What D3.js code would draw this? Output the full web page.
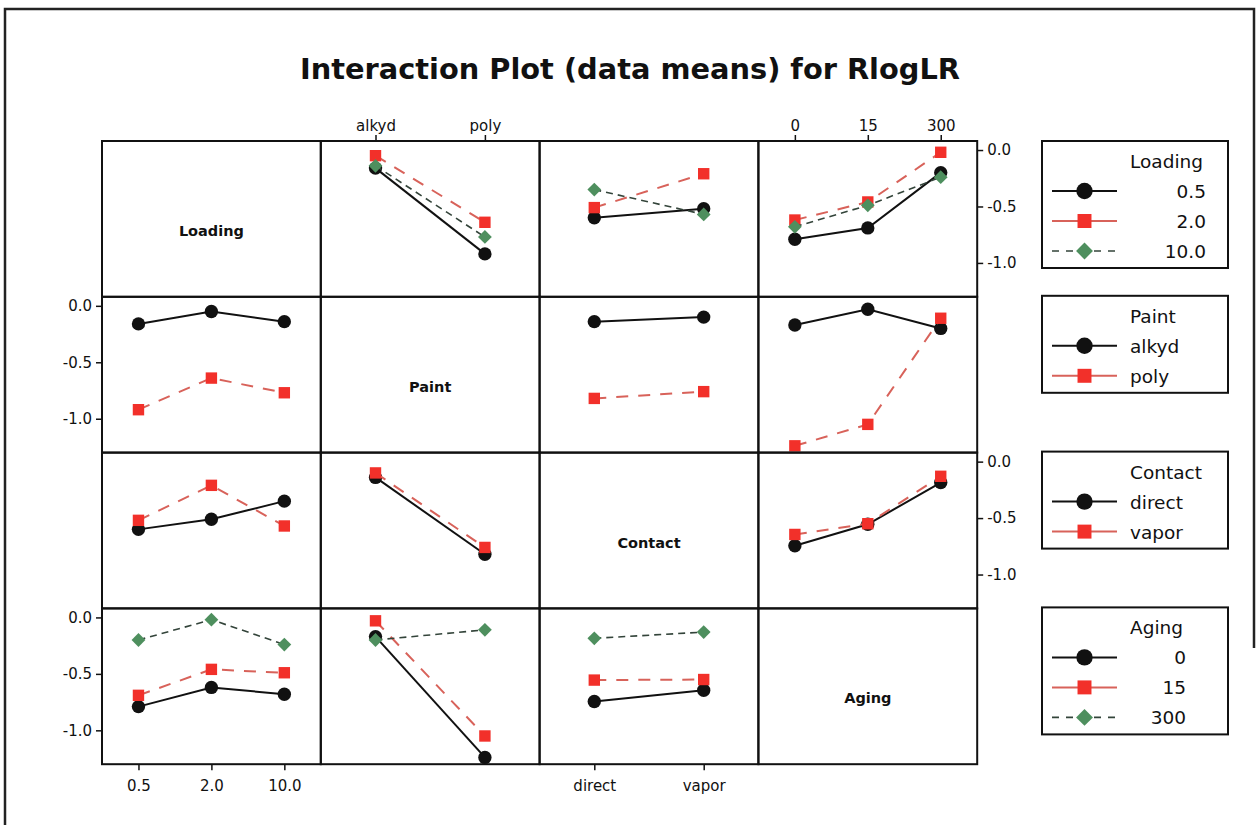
<!DOCTYPE html>
<html><head><meta charset="utf-8">
<script src="https://cdn.jsdelivr.net/npm/d3@7"></script>
<style>body{margin:0;background:#fff} svg{display:block}</style>
</head><body><svg id="c" width="1256" height="825"></svg>
<script>
// ---------------- DATA ----------------
const factors = ["Loading", "Paint", "Contact", "Aging"];
const loadingLevels = ["0.5", "2.0", "10.0"];
const paintLevels = ["alkyd", "poly"];
const contactLevels = ["direct", "vapor"];
const agingLevels = ["0", "15", "300"];
const yTickValues = [0.0, -0.5, -1.0];
// cell means: rows = levels of first factor, columns = levels of second factor
const meansLoadingPaint   = [[-0.16, -0.92], [-0.05, -0.64], [-0.14, -0.77]];
const meansLoadingContact = [[-0.60, -0.52], [-0.51, -0.21], [-0.35, -0.57]];
const meansLoadingAging   = [[-0.79, -0.69, -0.20], [-0.62, -0.46, -0.02], [-0.68, -0.49, -0.24]];
const meansPaintContact   = [[-0.14, -0.10], [-0.82, -0.76]];
const meansPaintAging     = [[-0.17, -0.03, -0.20], [-1.24, -1.05, -0.11]];
const meansContactAging   = [[-0.745, -0.555, -0.185], [-0.645, -0.55, -0.13]];
const titleText = "Interaction Plot (data means) for RlogLR";

// ---------------- SETUP ----------------
const levels = [loadingLevels, paintLevels, contactLevels, agingLevels];
const meansTable = {
  "0-1": meansLoadingPaint, "0-2": meansLoadingContact, "0-3": meansLoadingAging,
  "1-2": meansPaintContact, "1-3": meansPaintAging, "2-3": meansContactAging
};
function cellMean(tf, ti, xf, xi) {
  return tf < xf ? meansTable[tf + "-" + xf][ti][xi] : meansTable[xf + "-" + tf][xi][ti];
}
const numericFactor = [true, false, false, true];

const svg = d3.select("#c");
const FONT = "'DejaVu Sans', Verdana, sans-serif";

const gridLeft = 102, colW = 218.8, gridTop = 141, rowH = 155.8;
const colX = i => gridLeft + i * colW;
const rowY = i => gridTop + i * rowH;

const styles = [
  { line: "#111", dash: null, width: 2, fill: "#111", type: d3.symbolCircle, size: 140, rot: 0 },
  { line: "#d8625a", dash: "12,10", width: 2, fill: "#f2302a", type: d3.symbolSquare, size: 130, rot: 0 },
  { line: "#33443a", dash: "7,5", width: 1.6, fill: "#4e8f5e", type: d3.symbolSquare, size: 95, rot: 45 }
];

// frame
svg.append("path").attr("d", "M5,825 L5,9 L1254,9 L1254,648")
  .attr("fill", "none").attr("stroke", "#222").attr("stroke-width", 2.5);

// title
svg.append("text").attr("x", 630).attr("y", 79).attr("text-anchor", "middle")
  .attr("font-family", FONT).attr("font-weight", "bold").attr("font-size", 29)
  .attr("textLength", 660).attr("lengthAdjust", "spacingAndGlyphs")
  .attr("fill", "#111").text(titleText);

const xScales = levels.map((lv, j) => d3.scalePoint().domain(lv).range([colX(j), colX(j + 1)]).padding(0.5));
const yScales = factors.map((f, i) => d3.scaleLinear().domain([-1.30, 0.08]).range([rowY(i + 1), rowY(i)]));

// panels
for (let i = 0; i < 4; i++) {
  for (let j = 0; j < 4; j++) {
    const g = svg.append("g");
    if (i === j) {
      g.append("text").attr("x", (colX(j) + colX(j + 1)) / 2).attr("y", (rowY(i) + rowY(i + 1)) / 2 + 17)
        .attr("text-anchor", "middle").attr("font-family", FONT).attr("font-weight", "bold")
        .attr("font-size", 14.5).attr("fill", "#111").text(factors[i]);
      continue;
    }
    const x = xScales[j], y = yScales[i];
    levels[i].forEach((tl, ti) => {
      const st = styles[ti];
      const pts = levels[j].map((xl, xi) => [x(xl), y(cellMean(i, ti, j, xi))]);
      g.append("path").attr("d", d3.line()(pts)).attr("fill", "none")
        .attr("stroke", st.line).attr("stroke-width", st.width)
        .attr("stroke-dasharray", st.dash);
      pts.forEach(p => {
        g.append("path").attr("d", d3.symbol().type(st.type).size(st.size)())
          .attr("transform", `translate(${p[0]},${p[1]}) rotate(${st.rot})`)
          .attr("fill", st.fill);
      });
    });
  }
}

// grid borders
for (let i = 0; i < 4; i++) for (let j = 0; j < 4; j++) {
  svg.append("rect").attr("x", colX(j)).attr("y", rowY(i)).attr("width", colW).attr("height", rowH)
    .attr("fill", "none").attr("stroke", "#111").attr("stroke-width", 2);
}

function styleAxis(g) {
  g.select(".domain").remove();
  g.selectAll("line").attr("stroke", "#111").attr("stroke-width", 1.5);
  g.selectAll("text").attr("font-family", FONT).attr("font-size", 15).attr("fill", "#111");
}
// top axes (Paint, Aging)
[1, 3].forEach(j => {
  svg.append("g").attr("transform", `translate(0,${rowY(0)})`)
    .call(d3.axisTop(xScales[j]).tickSize(6).tickPadding(4)).call(styleAxis);
});
// bottom axes (Loading, Contact)
[0, 2].forEach(j => {
  svg.append("g").attr("transform", `translate(0,${rowY(4)})`)
    .call(d3.axisBottom(xScales[j]).tickSize(6).tickPadding(10)).call(styleAxis);
});
// left axes
[1, 3].forEach(i => {
  svg.append("g").attr("transform", `translate(${colX(0)},0)`)
    .call(d3.axisLeft(yScales[i]).tickValues(yTickValues).tickFormat(d3.format(".1f")).tickSize(6).tickPadding(4))
    .call(styleAxis);
});
// right axes
[0, 2].forEach(i => {
  svg.append("g").attr("transform", `translate(${colX(4)},0)`)
    .call(d3.axisRight(yScales[i]).tickValues(yTickValues).tickFormat(d3.format(".1f")).tickSize(6).tickPadding(4))
    .call(styleAxis);
});
// minus sign as hyphen
svg.selectAll(".tick text").text(function () { return d3.select(this).text().replace("\u2212", "-"); });

// legends
const legX = 1042, legW = 186, titleX = 1130;
factors.forEach((f, i) => {
  const top = rowY(i) + (i === 0 ? 0 : -1);
  const n = levels[i].length;
  const g = svg.append("g");
  g.append("rect").attr("x", legX).attr("y", top).attr("width", legW).attr("height", 30 * n + 37)
    .attr("fill", "#fff").attr("stroke", "#111").attr("stroke-width", 2);
  const t = g.append("text").attr("x", titleX).attr("y", top + 27).attr("font-family", FONT)
    .attr("font-size", 18.5).attr("fill", "#111").text(f);
  const tw = t.node().getComputedTextLength();
  levels[i].forEach((lv, k) => {
    const st = styles[k];
    const by = top + 57 + 30 * k, cy = by - 7;
    g.append("line").attr("x1", 1052).attr("x2", 1117).attr("y1", cy).attr("y2", cy)
      .attr("stroke", st.line).attr("stroke-width", st.width)
      .attr("stroke-dasharray", k === 2 ? "7,7" : null);
    g.append("path").attr("d", d3.symbol().type(st.type).size(st.size * 1.5)())
      .attr("transform", `translate(1084.5,${cy}) rotate(${st.rot})`).attr("fill", st.fill);
    g.append("text").attr("x", numericFactor[i] ? titleX + tw + 3 : titleX).attr("y", by)
      .attr("text-anchor", numericFactor[i] ? "end" : "start")
      .attr("font-family", FONT).attr("font-size", 18.5).attr("fill", "#111").text(lv);
  });
});
</script></body></html>
